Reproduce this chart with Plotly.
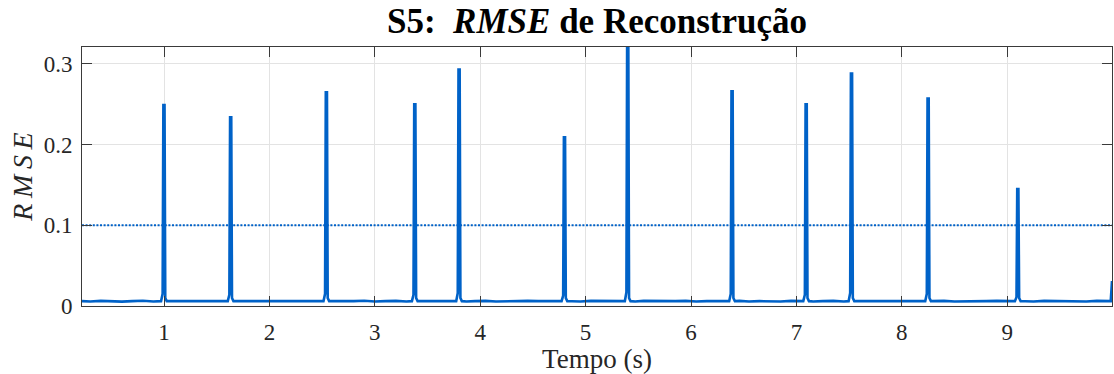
import plotly.graph_objects as go

# Transient reconstruction-error events: centre time (s) and peak RMSE
spike_time = [1.000, 1.633, 2.541, 3.380, 3.800, 4.800, 5.400, 6.390, 7.093, 7.523, 8.250, 9.101]
spike_peak = [0.249, 0.234, 0.265, 0.250, 0.293, 0.209, 0.335, 0.266, 0.250, 0.288, 0.257, 0.145]
spike_shoulder = [0.015, 0.014, 0.015, 0.014, 0.016, 0.013, 0.017, 0.015, 0.014, 0.016, 0.015, 0.011]

# Steady-state RMSE between events
base_time = [0.222, 0.30, 0.40, 0.50, 0.60, 0.70, 0.80, 0.90, 1.10, 1.20, 1.30, 1.40, 1.50,
             1.70, 1.80, 1.90, 2.00, 2.10, 2.20, 2.30, 2.40, 2.60, 2.70, 2.80, 2.90, 3.00,
             3.10, 3.20, 3.30, 3.45, 3.55, 3.65, 3.72, 3.87, 3.95, 4.05, 4.15, 4.25, 4.35,
             4.45, 4.55, 4.65, 4.73, 4.87, 4.95, 5.05, 5.15, 5.25, 5.33, 5.47, 5.55, 5.65,
             5.75, 5.85, 5.95, 6.05, 6.15, 6.25, 6.32, 6.46, 6.55, 6.65, 6.75, 6.85, 6.95,
             7.02, 7.16, 7.25, 7.35, 7.45, 7.59, 7.67, 7.77, 7.87, 7.97, 8.07, 8.17, 8.32,
             8.40, 8.50, 8.60, 8.70, 8.80, 8.90, 9.00, 9.04, 9.17, 9.25, 9.35, 9.45, 9.55,
             9.65, 9.75, 9.85, 9.93, 9.982]
base_rmse = [0.0060, 0.0055, 0.0064, 0.0058, 0.0054, 0.0061, 0.0065, 0.0056, 0.0060, 0.0055, 0.0063, 0.0059, 0.0055,
             0.0060, 0.0064, 0.0056, 0.0061, 0.0055, 0.0060, 0.0064, 0.0056, 0.0060, 0.0055, 0.0061, 0.0065, 0.0056,
             0.0060, 0.0064, 0.0055, 0.0060, 0.0056, 0.0063, 0.0059, 0.0055, 0.0061, 0.0064, 0.0056, 0.0060, 0.0055,
             0.0064, 0.0060, 0.0055, 0.0060, 0.0059, 0.0055, 0.0064, 0.0060, 0.0056, 0.0060, 0.0055, 0.0063, 0.0060,
             0.0055, 0.0060, 0.0064, 0.0056, 0.0061, 0.0055, 0.0060, 0.0064, 0.0055, 0.0060, 0.0059, 0.0055, 0.0064,
             0.0060, 0.0055, 0.0061, 0.0064, 0.0056, 0.0060, 0.0055, 0.0064, 0.0060, 0.0055, 0.0060, 0.0056, 0.0061,
             0.0064, 0.0055, 0.0060, 0.0056, 0.0061, 0.0064, 0.0055, 0.0060, 0.0059, 0.0055, 0.0064, 0.0060, 0.0055,
             0.0060, 0.0056, 0.0064, 0.0060, 0.0060]

# Onset of a new event at the very end of the record
tail_time = [9.994]
tail_rmse = [0.031]

threshold = 0.1

x_ticks = [1, 2, 3, 4, 5, 6, 7, 8, 9]
y_ticks = [0, 0.1, 0.2, 0.3]
y_tick_text = ["0", "0.1", "0.2", "0.3"]

# Each event drawn as a narrow pulse: baseline -> shoulder -> peak -> decay -> baseline
pulse_dt = [-0.028, -0.013, -0.006, 0.005, 0.012, 0.026]

points = []
for t, v in zip(base_time, base_rmse):
    if all(abs(t - s) > 0.035 for s in spike_time):
        points.append((t, v))
for s, p, sh in zip(spike_time, spike_peak, spike_shoulder):
    levels = [0.006, sh, p, p, 0.010, 0.006]
    for dt, lv in zip(pulse_dt, levels):
        points.append((s + dt, lv))
points += list(zip(tail_time, tail_rmse))
points.sort()

t_all = [p[0] for p in points]
v_all = [p[1] for p in points]

blue = "#0062C8"
serif = "Liberation Serif"

fig = go.Figure()
fig.add_trace(go.Scatter(x=t_all, y=v_all, mode="lines",
                         line=dict(color=blue, width=2.6), showlegend=False))
fig.add_trace(go.Scatter(x=[0.222, 9.994], y=[threshold, threshold], mode="lines",
                         line=dict(color=blue, width=2, dash="2px,1.6px"), showlegend=False))

axis_common = dict(
    showline=True, linecolor="#3a3a3a", linewidth=1, mirror="allticks",
    ticks="inside", ticklen=10, tickwidth=1, tickcolor="#3a3a3a",
    showgrid=True, gridcolor="#e3e3e3", gridwidth=1, zeroline=False,
    tickfont=dict(family=serif, size=23, color="#262626"),
)

fig.update_xaxes(range=[0.222, 9.994], tickvals=x_ticks,
                 title=dict(text="Tempo (s)", font=dict(family=serif, size=27, color="#262626"), standoff=0),
                 ticklabelstandoff=5, **axis_common)
fig.update_yaxes(range=[0, 0.321], tickvals=y_ticks, ticktext=y_tick_text,
                 title=dict(text="<i>R\u2009M\u2009S\u2009E</i>", font=dict(family=serif, size=28, color="#262626"), standoff=2),
                 ticklabelstandoff=4, **axis_common)

fig.update_layout(
    width=1114, height=374,
    margin=dict(l=82, r=2, t=47, b=68, autoexpand=False),
    paper_bgcolor="white", plot_bgcolor="white",
    title=dict(text="<b>S5:  <i>RMSE</i> de Reconstrução</b>",
               font=dict(family=serif, size=35, color="black"),
               x=0.5, xref="paper", xanchor="center",
               y=1 - 21 / 374, yref="container", yanchor="middle"),
)

fig.write_html("out.html")
